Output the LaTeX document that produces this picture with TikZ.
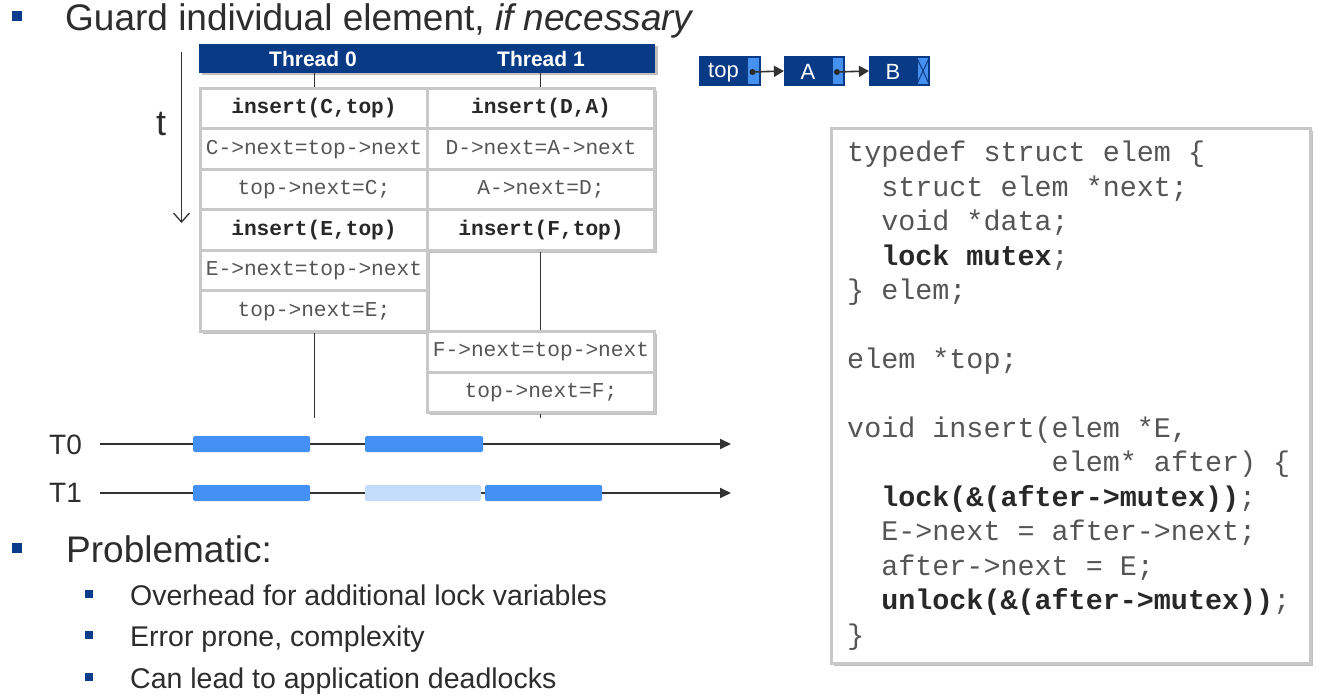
\documentclass[tikz,border=0pt]{standalone}
\usepackage{fontspec}
\setmainfont{Liberation Sans}
\setmonofont{Liberation Mono}
\usetikzlibrary{arrows.meta,shadows}
\definecolor{dblue}{RGB}{8,58,134}
\definecolor{bulblue}{RGB}{10,60,140}
\definecolor{barblue}{RGB}{69,144,245}
\definecolor{barlight}{RGB}{194,220,249}
\definecolor{ptrblue}{RGB}{70,145,240}
\definecolor{cgray}{RGB}{200,200,200}
\definecolor{tgray}{RGB}{45,45,45}
\definecolor{codegray}{RGB}{85,85,85}
\definecolor{codedark}{RGB}{40,40,40}
\definecolor{lgray}{RGB}{50,50,50}
\newcommand\codeind[1]{\hspace*{#1\fontcharwd\font`\x}}
\tikzset{
  shad/.style={drop shadow={shadow xshift=2.5pt, shadow yshift=-2.5pt, opacity=0.35, fill=black!70}},
  bigtxt/.style={inner sep=0pt, anchor=base west, text=tgray, font=\fontsize{37}{44}\selectfont},
  subtxt/.style={inner sep=0pt, anchor=base west, text=tgray, font=\fontsize{28.5}{34}\selectfont},
  bigbul/.style={fill=bulblue, inner sep=0pt, minimum size=10pt},
  subbul/.style={fill=bulblue, inner sep=0pt, minimum size=8pt},
  hdr/.style={fill=dblue, inner sep=0pt, minimum width=228pt, minimum height=29pt, text=white, font=\bfseries\fontsize{21}{25}\selectfont, shad},
  cell/.style={draw=cgray, line width=3pt, fill=white, minimum width=227pt, minimum height=40.5pt, inner sep=0pt, text height=14pt, text depth=4pt, font=\ttfamily\fontsize{21.2}{25}\selectfont, text=codegray, shad},
  bcell/.style={cell, text=codedark, font=\ttfamily\bfseries\fontsize{21.2}{25}\selectfont},
  tline/.style={draw=lgray, line width=1.2pt},
  lbox/.style={fill=dblue, draw=dblue, line width=1.2pt, minimum width=60pt, minimum height=28pt, inner sep=0pt},
  lptr/.style={fill=ptrblue, draw=dblue, line width=1.2pt, minimum width=12pt, minimum height=27pt, inner sep=0pt},
  ltxt/.style={inner sep=0pt, text=white, font=\fontsize{22}{26}\selectfont},
  ldot/.style={circle, fill=black!85, inner sep=0pt, minimum size=6pt},
  larrow/.style={draw=lgray, line width=1.6pt, -{Triangle[length=10pt,width=11pt]}},
  tlarrow/.style={draw=lgray, line width=1.8pt, -{Triangle[length=11pt,width=10pt]}},
  tlab/.style={inner sep=0pt, anchor=west, text=tgray, font=\fontsize{28}{32}\selectfont},
  codebox/.style={draw=cgray, line width=3pt, fill=white, minimum width=479pt, minimum height=535pt, inner sep=0pt, shad},
  code/.style={inner sep=0pt, anchor=base west, text=codegray, font=\ttfamily\fontsize{28.4}{34}\selectfont},
}
\begin{document}
\begin{tikzpicture}[x=1pt,y=-1pt]
\useasboundingbox (0,0) rectangle (1333,700);
\fill[white] (0,0) rectangle (1333,700);

% bullets and text
\node[bigbul] (b1) at (17,16) {};
\node[bigtxt] (title) at (65,31) {Guard individual element, \textit{if necessary}};
\node[bigbul] (b2) at (17,548) {};
\node[bigtxt] (prob) at (66,562) {Problematic:};
\node[subbul] (s1) at (89,594) {};
\node[subtxt] (st1) at (130,605) {Overhead for additional lock variables};
\node[subbul] (s2) at (89,635) {};
\node[subtxt] (st2) at (130,646) {Error prone, complexity};
\node[subbul] (s3) at (89,677) {};
\node[subtxt] (st3) at (130,688) {Can lead to application deadlocks};

% time arrow
\coordinate (ttop) at (181.5,52);
\coordinate (tbot) at (181.5,223);
\draw[draw=lgray, line width=1.3pt, -{Straight Barb[length=9pt,width=16pt]}] (ttop) -- (tbot);
\node[inner sep=0pt, text=tgray, font=\fontsize{36}{40}\selectfont] (tl) at (161,124) {t};

% thread headers
\node[hdr] (h0) at (313,58.5) {Thread 0};
\node[hdr] (h1) at (541,58.5) {Thread 1};

% thread lines
\coordinate (e0) at (314.3,418);
\coordinate (e1) at (540.7,418);
\draw[tline] (e0 |- h0.south) -- (e0);
\draw[tline] (e1 |- h1.south) -- (e1);

% thread 0 cells
\node[bcell] (a1) at (314,108.75) {insert(C,top)};
\node[cell]  (a2) at (314,149.25) {C->next=top->next};
\node[cell]  (a3) at (314,189.75) {top->next=C;};
\node[bcell] (a4) at (314,230.25) {insert(E,top)};
\node[cell]  (a5) at (314,270.75) {E->next=top->next};
\node[cell]  (a6) at (314,311.25) {top->next=E;};
% thread 1 cells
\node[bcell] (c1) at (541,108.75) {insert(D,A)};
\node[cell]  (c2) at (541,149.25) {D->next=A->next};
\node[cell]  (c3) at (541,189.75) {A->next=D;};
\node[bcell] (c4) at (541,230.25) {insert(F,top)};
\node[cell]  (c5) at (541,352) {F->next=top->next};
\node[cell]  (c6) at (541,392.5) {top->next=F;};

% timelines
\node[tlab] (T0) at (49,445) {T0};
\node[tlab] (T1) at (49,493) {T1};
\coordinate (t0s) at (100,444);
\coordinate (t0e) at (731,444);
\coordinate (t1s) at (100,493);
\coordinate (t1e) at (731,493);
\draw[tlarrow] (t0s) -- (t0e);
\draw[tlarrow] (t1s) -- (t1e);
\fill[barblue, rounded corners=1.5pt] (193,436) rectangle (310,452);
\fill[barblue, rounded corners=1.5pt] (365,436) rectangle (483,452);
\fill[barblue, rounded corners=1.5pt] (193,485) rectangle (310,501);
\fill[barlight, rounded corners=1.5pt] (365,485) rectangle (481,501);
\fill[barblue, rounded corners=1.5pt] (485,485) rectangle (602,501);

% linked list
\node[lbox] (ltop) at (730,71) {};
\node[lptr] (ptop) at (753.5,71) {};
\node[ltxt] (ttop2) at (723.5,73) {top};
\node[lbox] (la) at (814.5,71) {};
\node[lptr] (pa) at (838,71) {};
\node[ltxt] (ta) at (808,72) {A};
\node[lbox] (lb) at (899.5,71) {};
\node[lptr] (pb) at (923,71) {};
\node[ltxt] (tb) at (893,72) {B};
\draw[draw=dblue, line width=1pt] (pb.north west) -- (pb.south east) (pb.south west) -- (pb.north east);
\node[ldot] (dtop) at (752.5,72) {};
\node[ldot] (da) at (837,72) {};
\draw[larrow] (dtop.center) -- (la.west);
\draw[larrow] (da.center) -- (lb.west);

% code box
\node[codebox] (cb) at (1071,396) {};
\node[code] (l1) at (847,162) {typedef struct elem \{};
\node[code] (l2) at (847,196.4) {\codeind{2}struct elem *next;};
\node[code] (l3) at (847,230.9) {\codeind{2}void *data;};
\node[code] (l4) at (847,265.3) {\codeind{2}\textcolor{codedark}{\bfseries lock mutex};};
\node[code] (l5) at (847,299.7) {\} elem;};
\node[code] (l7) at (847,368.6) {elem *top;};
\node[code] (l9) at (847,437.4) {void insert(elem *E,};
\node[code] (l10) at (847,471.9) {\codeind{12}elem* after) \{};
\node[code] (l11) at (847,506.3) {\codeind{2}\textcolor{codedark}{\bfseries lock(\&(after->mutex))};};
\node[code] (l12) at (847,540.7) {\codeind{2}E->next = after->next;};
\node[code] (l13) at (847,575.2) {\codeind{2}after->next = E;};
\node[code] (l14) at (847,609.6) {\codeind{2}\textcolor{codedark}{\bfseries unlock(\&(after->mutex))};};
\node[code] (l15) at (847,644) {\}};
\end{tikzpicture}
\end{document}
